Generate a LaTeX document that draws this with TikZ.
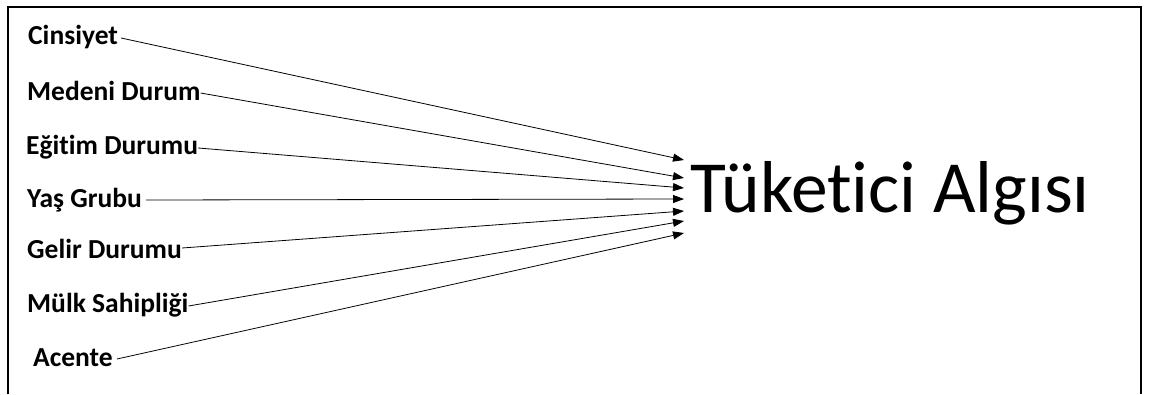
\documentclass[tikz,border=0pt]{standalone}
\usepackage{fontspec}
\setmainfont{Carlito}[RawFeature=-liga]
\usepackage{tikz}
\usetikzlibrary{positioning,arrows.meta,calc}

\begin{document}
\begin{tikzpicture}[x=1pt, y=-1pt,
  lab/.style={font=\bfseries\fontsize{27.5}{31}\selectfont, inner sep=0pt, anchor=west},
  big/.style={font=\fontsize{73.5}{80}\selectfont, inner sep=0pt, anchor=base west},
  arr/.style={line width=0.8pt, -{Triangle[length=11pt,width=8pt]}},
  frame/.style={line width=1.6pt}]
\useasboundingbox (0,0) rectangle (1155,394);
\draw[frame] (8,394) -- (8,7) -- (1141,7) -- (1141,394);
\node[lab] (cins) at (28,37) {Cinsiyet};
\node[lab] (med) at (27,91) {Medeni Durum};
\node[lab] (egt) at (26,147) {Eğitim Durumu};
\node[lab] (yas) at (27,200) {Yaş Grubu};
\node[lab] (gel) at (27,249) {Gelir Durumu};
\node[lab] (mulk) at (27,305) {Mülk Sahipliği};
\node[lab] (acn) at (33,358) {Acente};
\node[big] (alg) at (690,212) {Tüketici Algısı};
% arrow ends in front of the title
\coordinate (e1) at (684,160);
\coordinate (e2) at (684,178);
\coordinate (e3) at (684,188);
\coordinate (e4) at (684,199);
\coordinate (e5) at (684,211);
\coordinate (e6) at (684,221);
\coordinate (e7) at (684,233);
\draw[arr] ($(cins.east)+(3,1)$) -- (e1);
\draw[arr] ($(med.east)+(0,2)$) -- (e2);
\draw[arr] ($(egt.east)+(0,1)$) -- (e3);
\draw[arr] ($(yas.east)+(4,0)$) -- (e4);
\draw[arr] ($(gel.east)+(0,-1)$) -- (e5);
\draw[arr] ($(mulk.east)+(0,1)$) -- (e6);
\draw[arr] ($(acn.east)+(4,1)$) -- (e7);
\end{tikzpicture}
\end{document}
